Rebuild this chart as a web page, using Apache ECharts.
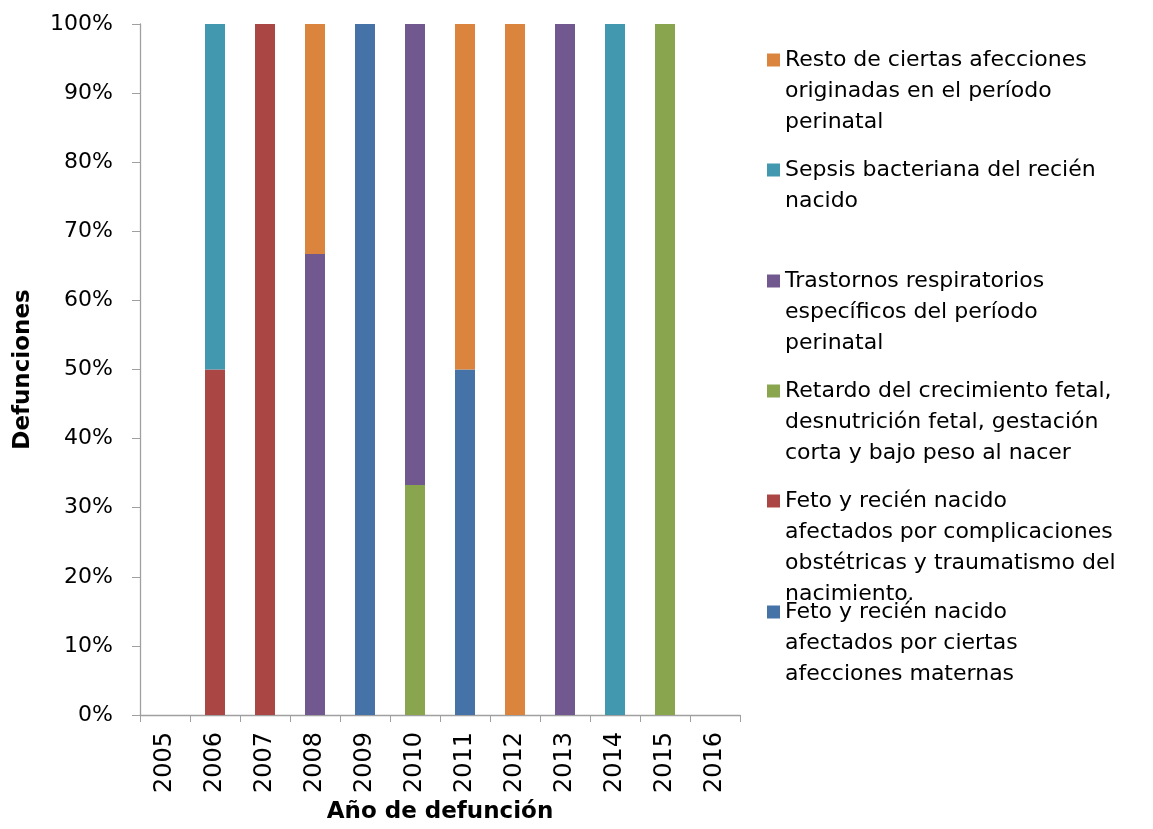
<!DOCTYPE html>
<html>
<head>
<meta charset="utf-8">
<script src="https://cdn.jsdelivr.net/npm/echarts@6/dist/echarts.min.js"></script>
<style>
  html, body { margin: 0; padding: 0; background: #fff; }
  #chart { width: 1153px; height: 829px; }
</style>
</head>
<body>
<div id="chart"></div>
<script>
// años de defunción
const years = ["2005", "2006", "2007", "2008", "2009", "2010", "2011", "2012", "2013", "2014", "2015", "2016"];
const yTicks = [0, 10, 20, 30, 40, 50, 60, 70, 80, 90, 100];

// % de defunciones por causa
const maternas = [0, 0, 0, 0, 100, 0, 50, 0, 0, 0, 0, 0];
const complicaciones = [0, 50, 100, 0, 0, 0, 0, 0, 0, 0, 0, 0];
const retardo = [0, 0, 0, 0, 0, 33.3, 0, 0, 0, 0, 100, 0];
const trastornos = [0, 0, 0, 66.7, 0, 66.7, 0, 0, 100, 0, 0, 0];
const sepsis = [0, 50, 0, 0, 0, 0, 0, 0, 0, 100, 0, 0];
const resto = [0, 0, 0, 33.3, 0, 0, 50, 100, 0, 0, 0, 0];

const seriesInfo = [
  { name: "maternas", label: "Feto y recién nacido\nafectados por ciertas\nafecciones maternas", data: maternas, color: "#4572A7", line: 612 },
  { name: "complicaciones", label: "Feto y recién nacido\nafectados por complicaciones\nobstétricas y traumatismo del\nnacimiento.", data: complicaciones, color: "#AA4643", line: 501 },
  { name: "retardo", label: "Retardo del crecimiento fetal,\ndesnutrición fetal, gestación\ncorta y bajo peso al nacer", data: retardo, color: "#89A54E", line: 391 },
  { name: "trastornos", label: "Trastornos respiratorios\nespecíficos del período\nperinatal", data: trastornos, color: "#71588F", line: 281 },
  { name: "sepsis", label: "Sepsis bacteriana del recién\nnacido", data: sepsis, color: "#4198AF", line: 170 },
  { name: "resto", label: "Resto de ciertas afecciones\noriginadas en el período\nperinatal", data: resto, color: "#DB843D", line: 60 },
];

const font = "DejaVu Sans";
const lh = 31;

let chart = echarts.init(document.getElementById("chart"), null, { renderer: "canvas" });

// una leyenda por serie, con el icono alineado a la primera línea
const legends = seriesInfo.map((s) => {
  const n = s.label.split("\n").length;
  return {
    orient: "vertical",
    left: 767,
    top: s.line - ((2 * n - 1) * lh) / 2,
    padding: 0,
    itemWidth: 13,
    itemHeight: 13,
    icon: "rect",
    data: [s.name],
    selectedMode: false,
    formatter: () => "\n".repeat(n - 1) + s.label,
    textStyle: { fontFamily: font, fontSize: 22, lineHeight: lh, color: "#000" },
  };
});

const option = {
  animation: false,
  backgroundColor: "#fff",
  grid: { left: 140, right: 413, top: 24, bottom: 112 },
  legend: legends,
  xAxis: {
    type: "category",
    data: years,
    name: "Año de defunción",
    nameLocation: "middle",
    nameGap: 86,
    nameTextStyle: { fontFamily: font, fontSize: 23, fontWeight: "bold", color: "#000" },
    axisLine: { lineStyle: { color: "#a0a0a0", width: 1.3 } },
    axisTick: { show: true, alignWithLabel: false, length: 7, lineStyle: { color: "#a0a0a0" } },
    axisLabel: { rotate: 90, margin: 17, fontFamily: font, fontSize: 24, color: "#000", interval: 0 },
    splitLine: { show: false },
  },
  yAxis: {
    type: "value",
    min: yTicks[0],
    max: yTicks[yTicks.length - 1],
    interval: yTicks[1] - yTicks[0],
    name: "Defunciones",
    nameLocation: "middle",
    nameGap: 105,
    nameTextStyle: { fontFamily: font, fontSize: 23, fontWeight: "bold", color: "#000" },
    axisLine: { show: true, lineStyle: { color: "#a0a0a0", width: 1.3 } },
    axisTick: { show: true, length: 8, lineStyle: { color: "#a0a0a0" } },
    axisLabel: { margin: 27, fontFamily: font, fontSize: 22, color: "#000", formatter: "{value}%" },
    splitLine: { show: false },
  },
  series: seriesInfo.map((s) => ({
    name: s.name,
    type: "bar",
    stack: "total",
    barWidth: 20,
    data: s.data,
    itemStyle: { color: s.color },
  })),
};

chart.setOption(option);
</script>
</body>
</html>
